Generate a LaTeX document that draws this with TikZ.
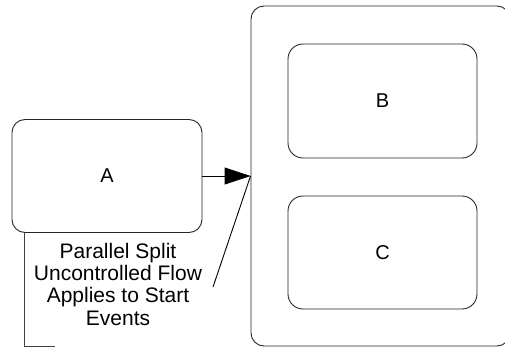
\documentclass[tikz,border=0pt]{standalone}
\usepackage{fontspec}
\setmainfont{Liberation Sans}
\usetikzlibrary{arrows.meta}
\begin{document}
\begin{tikzpicture}[x=1pt,y=-1pt,
  box/.style={draw=black!85, line width=0.9pt, rounded corners=13pt, inner sep=0pt,
    font=\fontsize{20}{22}\selectfont},
  conn/.style={draw=black, line width=0.9pt},
  note/.style={font=\fontsize{21}{22.3}\selectfont, align=center, inner sep=0pt}]
\useasboundingbox (0,0) rectangle (505,348);
\begin{scope}
\clip (0,0) rectangle (505,348);
\node[box, minimum width=259pt, minimum height=340pt] (pool) at (380.5,176) {};
\end{scope}
\node[box, minimum width=190pt, minimum height=113pt] (A) at (107,176) {A};
\node[box, rounded corners=15pt, minimum width=189pt, minimum height=114pt] (B) at (382.5,101) {B};
\node[box, rounded corners=15pt, minimum width=189pt, minimum height=113pt] (C) at (382.5,252.5) {C};
\draw[conn, -{Triangle[length=26pt,width=17pt]}] (A.east) -- (pool.west);
\node[note, anchor=north] (lbl) at (118,242.7) {Parallel Split\\Uncontrolled Flow\\Applies to Start\\Events};
\coordinate (annEnd) at (213,287);
\draw[conn] (pool.west) -- (annEnd);
\coordinate (brB) at (24,346);
\coordinate (brE) at (55,346);
\draw[draw=black!75, line width=0.9pt] (A.south west -| brB) -- (brB) -- (brE);
\end{tikzpicture}
\end{document}
